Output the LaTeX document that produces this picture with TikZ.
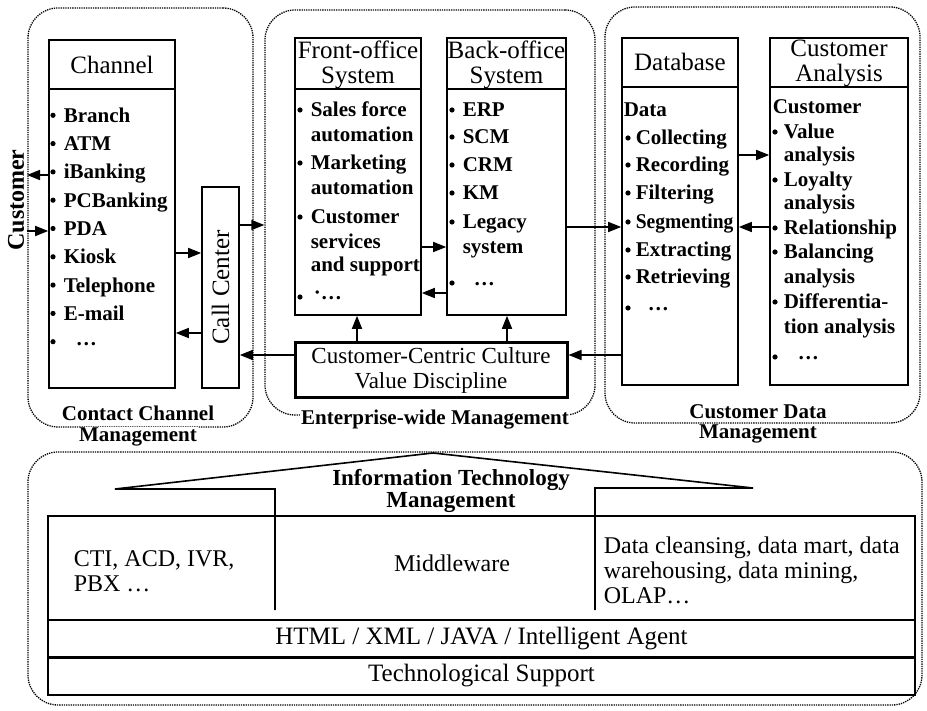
\documentclass[tikz,border=0pt]{standalone}
\usepackage{fontspec}
\setmainfont{Liberation Serif}
\usetikzlibrary{arrows.meta}

\def\barw{1.6pt}

\begin{document}
\begin{tikzpicture}[x=1pt, y=-1pt, line width=\barw, >={Triangle[length=13pt,width=10pt]}]
    \tikzstyle{group}=[draw, densely dotted, line width=1.3pt, rounded corners=30pt, inner sep=0pt]
    \tikzstyle{box}=[draw, inner sep=0pt]
    \tikzstyle{head}=[align=center, inner sep=0pt, font=\fontsize{25}{25}\selectfont]
    \tikzstyle{item}=[anchor=base west, inner sep=0pt, font=\fontsize{21}{25}\selectfont\bfseries]
    \tikzstyle{grouplabel}=[inner sep=1pt, font=\fontsize{21}{23}\selectfont\bfseries]
    \tikzstyle{cell}=[align=left, anchor=west, inner sep=0pt, font=\fontsize{24}{25}\selectfont]
    \tikzstyle{link}=[->]

    \useasboundingbox (0,0) rectangle (927,711);

    % Management areas
    \node[group, minimum width=225pt, minimum height=419pt] (ccm) at (140.5,217.5) {};
    \node[group, minimum width=330pt, minimum height=405pt] (ewm) at (430,212.5) {};
    \node[group, minimum width=315pt, minimum height=416pt] (cdm) at (762.5,215) {};
    \node[group, minimum width=894pt, minimum height=253pt] (itm) at (475,578.5) {};

    % Contact channel management
    \node[box, minimum width=126pt, minimum height=348pt] (chan) at (112,214) {};
    \draw (chan.west |- 0,89) -- (chan.east |- 0,89);
    \node[head] (chan-h) at (112,65) {Channel};
    \foreach \t [count=\i] in {Branch,ATM,iBanking,PCBanking,PDA,Kiosk,Telephone,E-mail}
        \node[item] (ch-\i) at (63,{94+28.3*\i}) {\t};
    \node[item] (ch-9) at (75,346) {\ldots};
    \foreach \i in {1,...,9}
        \fill (53,{87+28.3*\i}) circle (2.6pt);

    \node[box, minimum width=37pt, minimum height=201pt] (cc) at (220.5,287.5) {};
    \node[rotate=90, inner sep=0pt, font=\fontsize{25}{25}\selectfont] (cc-t) at (cc) {Call Center};

    \node[rotate=90, inner sep=0pt, font=\fontsize{24}{24}\selectfont\bfseries] (cust) at (16,200) {Customer};
    \coordinate (cust-a) at (27,175);
    \coordinate (cust-b) at (27,231);

    % Enterprise-wide management
    \node[box, minimum width=126pt, minimum height=277pt] (fo) at (358,176.5) {};
    \draw (fo.west |- 0,89) -- (fo.east |- 0,89);
    \node[head] (fo-h) at (358,64.5) {Front-office\\System};
    \foreach \y/\t [count=\i] in {117/Sales force,142/automation,170/Marketing,195/automation,224/Customer,249/services,272/and support}
        \node[item] (fo-\i) at (310,\y) {\t};
    \node[item] (fo-8) at (313,300) {·\ldots};
    \foreach \y in {110,163,217,297}
        \fill (300,\y) circle (2.6pt);

    \node[box, minimum width=119pt, minimum height=277pt] (bo) at (506.5,176.5) {};
    \draw (bo.west |- 0,89) -- (bo.east |- 0,89);
    \node[head] (bo-h) at (506.5,64.5) {Back-office\\System};
    \foreach \y/\t [count=\i] in {117/ERP,144/SCM,172/CRM,200/KM,229/Legacy,254/system}
        \node[item] (bo-\i) at (462,\y) {\t};
    \node[item] (bo-7) at (473,286) {\ldots};
    \foreach \y in {110,137,165,193,222,283}
        \fill (452,\y) circle (2.6pt);

    \node[box, line width=3pt, minimum width=272pt, minimum height=55pt, align=center,
          font=\fontsize{23}{25}\selectfont] (cul) at (431,370.5) {Customer-Centric Culture\\Value Discipline};

    % Customer data management
    \node[box, minimum width=116pt, minimum height=347pt] (db) at (680,211.5) {};
    \draw (db.west |- 0,87) -- (db.east |- 0,87);
    \node[head] (db-h) at (680,62) {Database};
    \node[item] (db-0) at (623,117) {Data};
    \foreach \y/\t [count=\i] in {145/Collecting,172/Recording,200/Filtering,229/\scalebox{.93}[1]{Segmenting},257/Extracting,284/Retrieving}
        \node[item] (db-\i) at (635,\y) {\t};
    \node[item] (db-7) at (647,311) {\ldots};
    \foreach \y in {138,165,193,222,250,277,308}
        \fill (628,\y) circle (2.6pt);

    \node[box, minimum width=138pt, minimum height=347pt] (ca) at (839,211.5) {};
    \draw (ca.west |- 0,87) -- (ca.east |- 0,87);
    \node[head] (ca-h) at (839,63.5) {Customer\\Analysis};
    \node[item] (ca-0) at (772,114) {Customer};
    \foreach \y/\t [count=\i] in {139/Value,162/analysis,187/Loyalty,210/analysis,235/Relationship,259/Balancing,284/analysis,309/Differentia-,334/tion analysis}
        \node[item] (ca-\i) at (783,\y) {\t};
    \node[item] (ca-10) at (797,360) {\ldots};
    \foreach \y in {132,180,228,252,302,357}
        \fill (775,\y) circle (2.6pt);

    % Group labels
    \node[grouplabel] (ccm-l1) at (138,413) {Contact Channel};
    \node[grouplabel, fill=white] (ccm-l2) at (138,437) {Management};
    \node[grouplabel, fill=white] (ewm-l) at (435,420) {Enterprise-wide Management};
    \node[grouplabel] (cdm-l1) at (758,412) {Customer Data};
    \node[grouplabel, fill=white] (cdm-l2) at (758,434) {Management};

    % Information technology management
    \draw[line join=miter] (275,610) -- (275,489) -- (115,489) -- (433,453) -- (753,488) -- (595,488) -- (595,610);
    \node[align=center, inner sep=0pt, font=\fontsize{23}{22}\selectfont\bfseries] (itm-l) at (451,491) {Information Technology\\Management};
    \node[box, minimum width=867pt, minimum height=104pt] (tools) at (481.5,568) {};
    \node[cell] (cti) at (73,571) {CTI, ACD, IVR,\\PBX \ldots};
    \node[inner sep=0pt, font=\fontsize{24}{25}\selectfont] (mw) at (452,563) {Middleware};
    \node[cell] (dw) at (603,570) {Data cleansing, data mart, data\\warehousing, data mining,\\OLAP\ldots};
    \node[box, minimum width=867pt, minimum height=37pt, font=\fontsize{25}{25}\selectfont] (html) at (481.5,638.5) {HTML / XML / JAVA / Intelligent Agent};
    \node[box, minimum width=867pt, minimum height=38pt, font=\fontsize{25}{25}\selectfont] (tech) at (481.5,676) {Technological Support};
    \draw[line width=2.6pt] (html.south west) -- (html.south east);

    % Flows
    \draw[link] (chan.west |- cust-a) -- (cust-a);
    \draw[link] (cust-b) -- (chan.west |- cust-b);
    \draw[link] (chan.east |- 0,253) -- (cc.west |- 0,253);
    \draw[link] (cc.west |- 0,333) -- (chan.east |- 0,333);
    \draw[link] (cc.east |- 0,225) -- (ewm.west |- 0,225);
    \draw[link] (cul.west |- 0,355) -- (cc.east |- 0,355);
    \draw[link] (fo.east |- 0,247) -- (bo.west |- 0,247);
    \draw[link] (bo.west |- 0,293) -- (fo.east |- 0,293);
    \draw[link] (cul.north -| 357,0) -- (fo.south -| 357,0);
    \draw[link] (cul.north -| 507,0) -- (bo.south -| 507,0);
    \draw[link] (bo.east |- 0,227) -- (db.west |- 0,227);
    \draw[link] (db.west |- 0,355) -- (cul.east |- 0,355);
    \draw[link] (db.east |- 0,155) -- (ca.west |- 0,155);
    \draw[link] (ca.west |- 0,227) -- (db.east |- 0,227);
\end{tikzpicture}
\end{document}
